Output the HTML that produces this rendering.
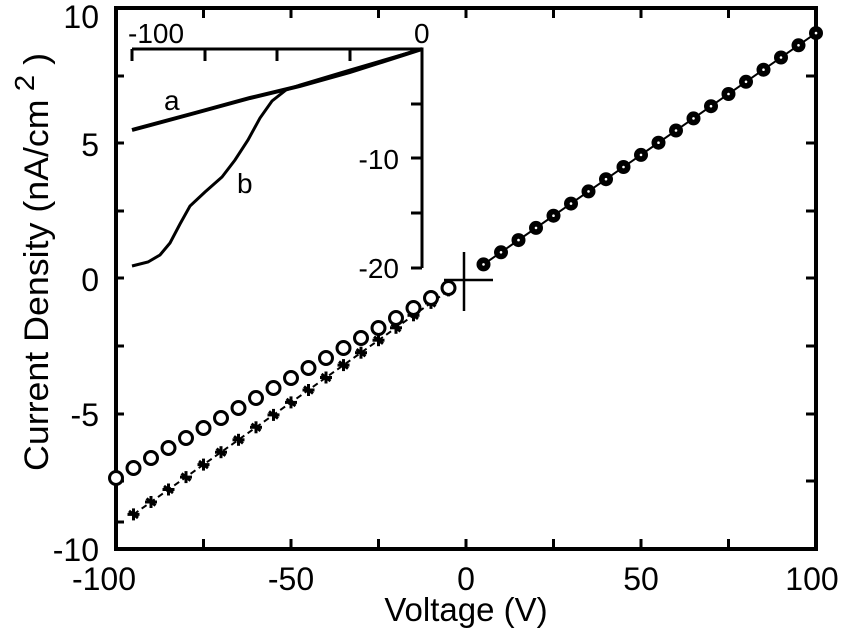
<!DOCTYPE html>
<html><head><meta charset="utf-8"><style>html,body{margin:0;padding:0;background:#fff}svg{display:block}</style></head><body>
<svg width="846" height="633" viewBox="0 0 846 633" xmlns="http://www.w3.org/2000/svg" xmlns:xlink="http://www.w3.org/1999/xlink" font-family="Liberation Sans, sans-serif">
<defs>
<g id="st" stroke="#000" stroke-width="3"><line x1="-6" y1="0" x2="6" y2="0"/><line x1="0" y1="-6" x2="0" y2="6"/><line x1="-4.5" y1="-3.5" x2="4.5" y2="3.5"/></g>
<circle id="oc" r="6.5" fill="#fff" stroke="#000" stroke-width="3"/>
<g id="fc"><circle r="7" fill="#000"/><circle r="1.3" fill="#fff"/></g>
</defs>
<rect width="846" height="633" fill="#fff"/>
<rect x="116" y="8" width="700" height="541" stroke="#000" stroke-width="4" fill="none"/>
<g stroke="#000" stroke-width="3">
<line x1="203.5" y1="549" x2="203.5" y2="539"/><line x1="291" y1="549" x2="291" y2="539"/><line x1="378.5" y1="549" x2="378.5" y2="539"/><line x1="466" y1="549" x2="466" y2="539"/><line x1="553.5" y1="549" x2="553.5" y2="539"/><line x1="641" y1="549" x2="641" y2="539"/><line x1="728.5" y1="549" x2="728.5" y2="539"/>
<line x1="203.5" y1="8" x2="203.5" y2="18"/><line x1="291" y1="8" x2="291" y2="18"/><line x1="378.5" y1="8" x2="378.5" y2="18"/><line x1="466" y1="8" x2="466" y2="18"/><line x1="553.5" y1="8" x2="553.5" y2="18"/><line x1="641" y1="8" x2="641" y2="18"/><line x1="728.5" y1="8" x2="728.5" y2="18"/>
<line x1="116" y1="76" x2="124" y2="76"/><line x1="116" y1="143" x2="124" y2="143"/><line x1="116" y1="211" x2="124" y2="211"/><line x1="116" y1="278" x2="124" y2="278"/><line x1="116" y1="346" x2="124" y2="346"/><line x1="116" y1="414" x2="124" y2="414"/><line x1="116" y1="481" x2="124" y2="481"/><line x1="116" y1="522" x2="124" y2="522"/>
<line x1="816" y1="76" x2="806" y2="76"/><line x1="816" y1="143" x2="806" y2="143"/><line x1="816" y1="211" x2="806" y2="211"/><line x1="816" y1="278" x2="806" y2="278"/><line x1="816" y1="346" x2="806" y2="346"/><line x1="816" y1="414" x2="806" y2="414"/><line x1="816" y1="481" x2="806" y2="481"/>
<line x1="444" y1="280" x2="493" y2="280" stroke-width="2.5"/><line x1="464" y1="252" x2="464" y2="311" stroke-width="2.5"/>
</g>
<g font-size="32" fill="#000">
<text x="99" y="28" text-anchor="end">10</text>
<text x="99" y="156" text-anchor="end">5</text>
<text x="99" y="291" text-anchor="end">0</text>
<text x="99" y="426" text-anchor="end">-5</text>
<text x="99" y="561" text-anchor="end">-10</text>
<text x="104" y="590" text-anchor="middle">-100</text>
<text x="291" y="590" text-anchor="middle">-50</text>
<text x="466" y="590" text-anchor="middle">0</text>
<text x="641" y="590" text-anchor="middle">50</text>
<text x="812" y="590" text-anchor="middle">100</text>
<text x="466" y="621" text-anchor="middle" font-size="33">Voltage (V)</text>
<text transform="translate(48,471) rotate(-90)" font-size="34" textLength="418" lengthAdjust="spacingAndGlyphs">Current Density (nA/cm<tspan dy="-14" font-size="28"> 2</tspan><tspan dy="14"> )</tspan></text>
</g>
<g stroke="#000" stroke-width="3" fill="none">
<polyline points="132,49 422,49 422,268"/>
<line x1="132" y1="49" x2="132" y2="61"/><line x1="205" y1="49" x2="205" y2="61"/><line x1="277" y1="49" x2="277" y2="61"/><line x1="350" y1="49" x2="350" y2="61"/>
<line x1="422" y1="104" x2="411" y2="104"/><line x1="422" y1="158" x2="411" y2="158"/><line x1="422" y1="213" x2="411" y2="213"/><line x1="422" y1="268" x2="411" y2="268"/>
<polyline stroke-width="4" points="132,130 195,113 250,98 300,86 350,72 422,49"/>
<polyline stroke-width="3" points="132,266 148,262 160,255 170,243 180,224 190,206 205,192 222,177 235,160 248,140 260,118 272,101 286,90 300,85 320,79 350,70 422,49"/>
</g>
<g font-size="28" fill="#000">
<text x="128" y="43">-100</text>
<text x="414" y="43">0</text>
<text x="399" y="169" text-anchor="end">-10</text>
<text x="399" y="278" text-anchor="end">-20</text>
<text x="164" y="110">a</text>
<text x="237" y="193">b</text>
</g>
<polyline points="133.5,514.4 151,502 168.5,489.5 186,477.1 203.5,464.6 221,452.2 238.5,439.8 256,427.3 273.5,414.9 291,402.4 308.5,390 326,377.5 343.5,365.1 361,352.7 378.5,340.2 396,327.8 413.5,315.3 431,302.9 448.5,290.4" stroke="#000" stroke-width="2" stroke-dasharray="6,4" fill="none"/>
<use xlink:href="#st" x="133.5" y="514.4"/><use xlink:href="#st" x="151" y="502"/><use xlink:href="#st" x="168.5" y="489.5"/><use xlink:href="#st" x="186" y="477.1"/><use xlink:href="#st" x="203.5" y="464.6"/><use xlink:href="#st" x="221" y="452.2"/><use xlink:href="#st" x="238.5" y="439.8"/><use xlink:href="#st" x="256" y="427.3"/><use xlink:href="#st" x="273.5" y="414.9"/><use xlink:href="#st" x="291" y="402.4"/><use xlink:href="#st" x="308.5" y="390"/><use xlink:href="#st" x="326" y="377.5"/><use xlink:href="#st" x="343.5" y="365.1"/><use xlink:href="#st" x="361" y="352.7"/><use xlink:href="#st" x="378.5" y="340.2"/><use xlink:href="#st" x="396" y="327.8"/><use xlink:href="#st" x="413.5" y="315.3"/><use xlink:href="#st" x="431" y="302.9"/><use xlink:href="#st" x="448.5" y="290.4"/>
<use xlink:href="#oc" x="116" y="478"/><use xlink:href="#oc" x="133.5" y="468"/><use xlink:href="#oc" x="151" y="458"/><use xlink:href="#oc" x="168.5" y="448"/><use xlink:href="#oc" x="186" y="438"/><use xlink:href="#oc" x="203.5" y="428"/><use xlink:href="#oc" x="221" y="418"/><use xlink:href="#oc" x="238.5" y="408"/><use xlink:href="#oc" x="256" y="398"/><use xlink:href="#oc" x="273.5" y="388"/><use xlink:href="#oc" x="291" y="378"/><use xlink:href="#oc" x="308.5" y="368"/><use xlink:href="#oc" x="326" y="358"/><use xlink:href="#oc" x="343.5" y="348"/><use xlink:href="#oc" x="361" y="338"/><use xlink:href="#oc" x="378.5" y="328"/><use xlink:href="#oc" x="396" y="318"/><use xlink:href="#oc" x="413.5" y="308"/><use xlink:href="#oc" x="431" y="298"/><use xlink:href="#oc" x="448.5" y="288"/>
<polyline points="483.5,264.4 816,33.1" stroke="#000" stroke-width="2" fill="none"/>
<use xlink:href="#fc" x="483.5" y="264.4"/><use xlink:href="#fc" x="501" y="252.3"/><use xlink:href="#fc" x="518.5" y="240.1"/><use xlink:href="#fc" x="536" y="227.9"/><use xlink:href="#fc" x="553.5" y="215.7"/><use xlink:href="#fc" x="571" y="203.6"/><use xlink:href="#fc" x="588.5" y="191.4"/><use xlink:href="#fc" x="606" y="179.2"/><use xlink:href="#fc" x="623.5" y="167"/><use xlink:href="#fc" x="641" y="154.9"/><use xlink:href="#fc" x="658.5" y="142.7"/><use xlink:href="#fc" x="676" y="130.5"/><use xlink:href="#fc" x="693.5" y="118.4"/><use xlink:href="#fc" x="711" y="106.2"/><use xlink:href="#fc" x="728.5" y="94"/><use xlink:href="#fc" x="746" y="81.8"/><use xlink:href="#fc" x="763.5" y="69.7"/><use xlink:href="#fc" x="781" y="57.5"/><use xlink:href="#fc" x="798.5" y="45.3"/><use xlink:href="#fc" x="816" y="33.1"/>
</svg>
</body></html>
